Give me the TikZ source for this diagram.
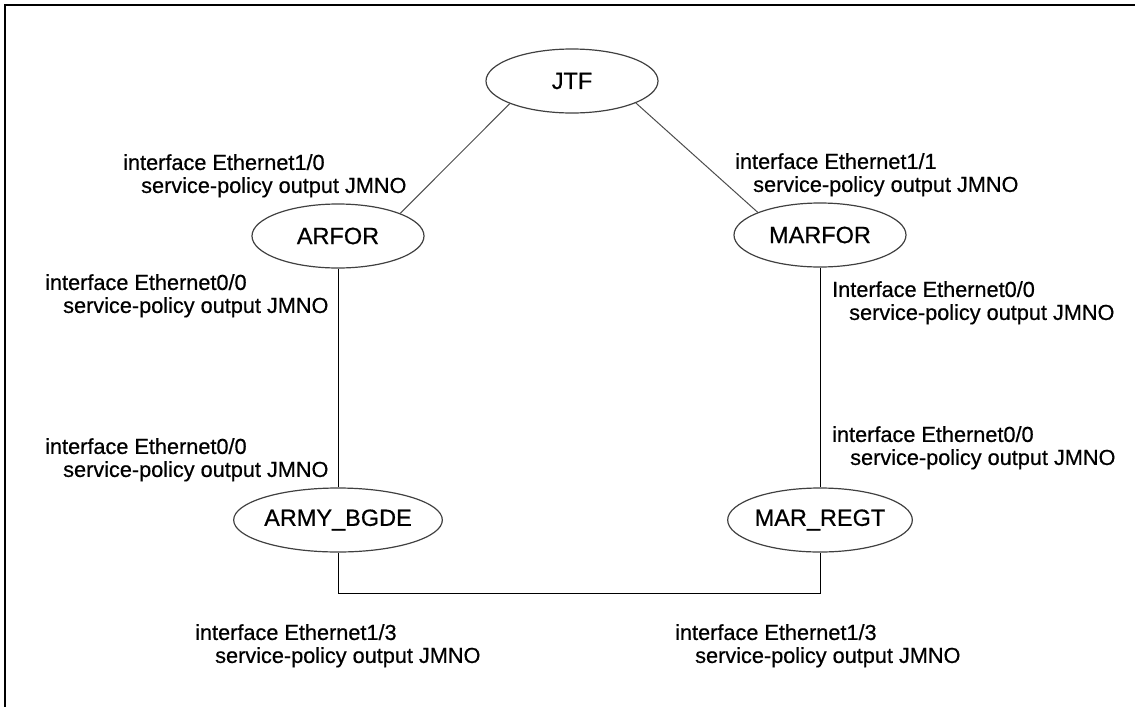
\documentclass[tikz,border=0pt]{standalone}
\usepackage{fontspec}
\setmainfont{Liberation Sans}[FakeBold=0.6]
\usetikzlibrary{shapes.geometric}
\begin{document}
\begin{tikzpicture}[x=1pt,y=-1pt,
  site/.style={ellipse, draw=black!75, line width=1.2pt, minimum width=172pt, minimum height=64pt, inner sep=0pt, font=\fontsize{23.5}{26}\selectfont},
  cfg/.style={anchor=north west, inner sep=0pt, align=left, font=\fontsize{21.7}{23}\selectfont},
  link/.style={line width=1pt, black},
  diag/.style={line width=1pt, black!70},
  frameline/.style={line width=2pt, black}]
\useasboundingbox (0,0) rectangle (1135,707);
\draw[frameline] (1135,5) -- (5,5) -- (5,707);

\node[site] (jtf) at (572,81) {JTF};
\node[site] (arfor) at (338,236) {ARFOR};
\node[site] (marfor) at (820,235) {MARFOR};
\node[site] (army) at (338,520) {ARMY\_BGDE};
\node[site] (marregt) at (820,520) {MAR\_REGT};

\draw[diag] (jtf.200) -- (arfor.20);
\draw[diag] (jtf.341) -- (marfor.160);
\draw[link] (arfor) -- (army);
\draw[link] (marfor) -- (marregt);
\coordinate (corner) at (820,593);
\draw[link] (army.south) |- (corner) -- (marregt.south);

\node[cfg] (l1) at (123,154) {interface Ethernet1/0\\\hspace*{18pt}service-policy output JMNO};
\node[cfg] (l2) at (735,153) {interface Ethernet1/1\\\hspace*{18pt}service-policy output JMNO};
\node[cfg] (l3) at (45,274) {interface Ethernet0/0\\\hspace*{18pt}service-policy output JMNO};
\node[cfg] (l4) at (832,281) {Interface Ethernet0/0\\\hspace*{17pt}service-policy output JMNO};
\node[cfg] (l5) at (45,438) {interface Ethernet0/0\\\hspace*{18pt}service-policy output JMNO};
\node[cfg] (l6) at (832,426) {interface Ethernet0/0\\\hspace*{18pt}service-policy output JMNO};
\node[cfg] (l7) at (195,624) {interface Ethernet1/3\\\hspace*{20pt}service-policy output JMNO};
\node[cfg] (l8) at (675,624) {interface Ethernet1/3\\\hspace*{20pt}service-policy output JMNO};
\end{tikzpicture}
\end{document}
